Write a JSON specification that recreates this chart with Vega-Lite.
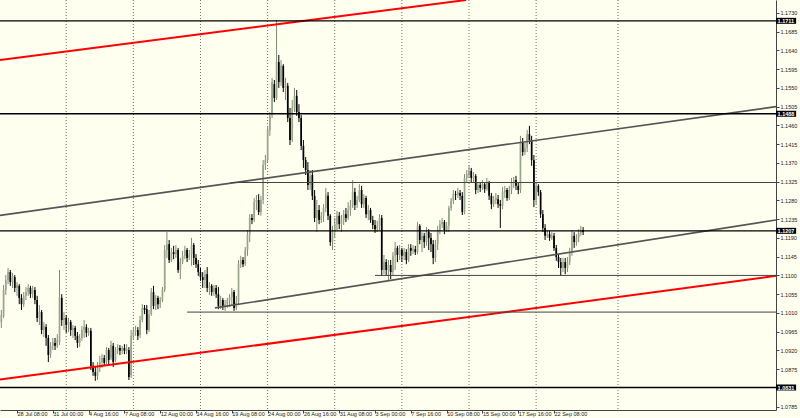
{
"$schema":"https://vega.github.io/schema/vega-lite/v6.json",
"width":776,"height":410,"autosize":"none",
"padding":{"left":0,"top":0,"right":24,"bottom":8},
"background":"#fffff0",
"config":{"view":{"stroke":null},
 "axis":{"labelFont":"Liberation Sans","labelFontSize":5.5,"labelColor":"#222222","tickColor":"#444444","domainColor":"#444444","tickSize":3,"grid":false,"title":null,"labelOverlap":false,"labelBound":false,"labelFlush":false}},
"datasets":{
"grid":[{"n":22},{"n":52},{"n":82},{"n":112},{"n":142},{"n":172},{"n":202},{"n":232},{"n":268.6}],
"lines":[
{"id":"upperTrend","kind":"trend","n1":-7.6,"p1":1.1617,"n2":200.7,"p2":1.1761},
{"id":"lowerTrend","kind":"trend","n1":-7.6,"p1":1.0850,"n2":339.2,"p2":1.1099},
{"id":"channelTop","kind":"channel","n1":-7.6,"p1":1.1244,"n2":339.2,"p2":1.1505},
{"id":"channelBottom","kind":"channel","n1":88.5,"p1":1.1022,"n2":339.2,"p2":1.1233},
{"id":"L1711","kind":"level","n1":-7.6,"p1":1.1711,"n2":339.2,"p2":1.1711},
{"id":"L1488","kind":"level","n1":-7.6,"p1":1.1488,"n2":339.2,"p2":1.1488},
{"id":"L1207","kind":"level","n1":-7.6,"p1":1.1207,"n2":339.2,"p2":1.1207},
{"id":"L0831","kind":"level","n1":-7.6,"p1":1.0831,"n2":339.2,"p2":1.0831},
{"id":"R1323","kind":"ray","n1":95.6,"p1":1.1323,"n2":339.2,"p2":1.1323},
{"id":"R1100","kind":"ray","n1":160,"p1":1.1100,"n2":339.2,"p2":1.1100},
{"id":"R1012","kind":"ray","n1":76,"p1":1.1012,"n2":339.2,"p2":1.1012}
],
"candles":[
{"n":-7,"o":1.0988,"h":1.1017,"l":1.0974,"c":1.1005},
{"n":-6,"o":1.1003,"h":1.1077,"l":1.0998,"c":1.1065},
{"n":-5,"o":1.1065,"h":1.1101,"l":1.1053,"c":1.1089},
{"n":-4,"o":1.1089,"h":1.1118,"l":1.1079,"c":1.1108},
{"n":-3,"o":1.1108,"h":1.1113,"l":1.1075,"c":1.1084},
{"n":-2,"o":1.1084,"h":1.1106,"l":1.1070,"c":1.1099},
{"n":-1,"o":1.1096,"h":1.1101,"l":1.1060,"c":1.1070},
{"n":0,"o":1.1070,"h":1.1084,"l":1.1051,"c":1.1077},
{"n":1,"o":1.1075,"h":1.1079,"l":1.1031,"c":1.1046},
{"n":2,"o":1.1046,"h":1.1055,"l":1.1017,"c":1.1031},
{"n":3,"o":1.1031,"h":1.1060,"l":1.1024,"c":1.1051},
{"n":4,"o":1.1051,"h":1.1072,"l":1.1041,"c":1.1060},
{"n":5,"o":1.1060,"h":1.1079,"l":1.1051,"c":1.1070},
{"n":6,"o":1.1070,"h":1.1075,"l":1.1046,"c":1.1055},
{"n":7,"o":1.1055,"h":1.1075,"l":1.1046,"c":1.1065},
{"n":8,"o":1.1065,"h":1.1072,"l":1.1031,"c":1.1041},
{"n":9,"o":1.1041,"h":1.1051,"l":1.0988,"c":1.0998},
{"n":10,"o":1.0998,"h":1.1029,"l":1.0981,"c":1.1012},
{"n":11,"o":1.1012,"h":1.1017,"l":1.0959,"c":1.0969},
{"n":12,"o":1.0969,"h":1.0988,"l":1.0952,"c":1.0979},
{"n":13,"o":1.0976,"h":1.0983,"l":1.0931,"c":1.0950},
{"n":14,"o":1.0950,"h":1.0957,"l":1.0892,"c":1.0909},
{"n":15,"o":1.0911,"h":1.0940,"l":1.0902,"c":1.0931},
{"n":16,"o":1.0931,"h":1.0950,"l":1.0921,"c":1.0940},
{"n":17,"o":1.0938,"h":1.0950,"l":1.0921,"c":1.0931},
{"n":18,"o":1.0931,"h":1.0959,"l":1.0926,"c":1.0945},
{"n":19,"o":1.0940,"h":1.1113,"l":1.0933,"c":1.1048},
{"n":20,"o":1.1046,"h":1.1055,"l":1.0979,"c":1.0993},
{"n":21,"o":1.0993,"h":1.1012,"l":1.0969,"c":1.0998},
{"n":22,"o":1.0998,"h":1.1005,"l":1.0962,"c":1.0981},
{"n":23,"o":1.0981,"h":1.0998,"l":1.0964,"c":1.0988},
{"n":24,"o":1.0988,"h":1.0993,"l":1.0955,"c":1.0969},
{"n":25,"o":1.0969,"h":1.0981,"l":1.0950,"c":1.0974},
{"n":26,"o":1.0974,"h":1.0979,"l":1.0945,"c":1.0955},
{"n":27,"o":1.0955,"h":1.0964,"l":1.0926,"c":1.0938},
{"n":28,"o":1.0938,"h":1.0959,"l":1.0928,"c":1.0950},
{"n":29,"o":1.0950,"h":1.0979,"l":1.0943,"c":1.0969},
{"n":30,"o":1.0969,"h":1.0993,"l":1.0950,"c":1.0976},
{"n":31,"o":1.0976,"h":1.0983,"l":1.0952,"c":1.0962},
{"n":32,"o":1.0962,"h":1.0974,"l":1.0955,"c":1.0967},
{"n":33,"o":1.0967,"h":1.0974,"l":1.0873,"c":1.0883},
{"n":34,"o":1.0883,"h":1.0892,"l":1.0859,"c":1.0868},
{"n":35,"o":1.0868,"h":1.0883,"l":1.0847,"c":1.0859},
{"n":36,"o":1.0859,"h":1.0892,"l":1.0849,"c":1.0878},
{"n":37,"o":1.0878,"h":1.0907,"l":1.0868,"c":1.0892},
{"n":38,"o":1.0892,"h":1.0911,"l":1.0878,"c":1.0902},
{"n":39,"o":1.0902,"h":1.0909,"l":1.0883,"c":1.0890},
{"n":40,"o":1.0892,"h":1.0928,"l":1.0887,"c":1.0921},
{"n":41,"o":1.0921,"h":1.0926,"l":1.0883,"c":1.0897},
{"n":42,"o":1.0902,"h":1.0943,"l":1.0897,"c":1.0933},
{"n":43,"o":1.0931,"h":1.0938,"l":1.0880,"c":1.0892},
{"n":44,"o":1.0897,"h":1.0928,"l":1.0892,"c":1.0921},
{"n":45,"o":1.0921,"h":1.0935,"l":1.0911,"c":1.0926},
{"n":46,"o":1.0926,"h":1.0933,"l":1.0909,"c":1.0919},
{"n":47,"o":1.0919,"h":1.0931,"l":1.0911,"c":1.0926},
{"n":48,"o":1.0926,"h":1.0935,"l":1.0911,"c":1.0919},
{"n":49,"o":1.0919,"h":1.0935,"l":1.0911,"c":1.0923},
{"n":50,"o":1.0921,"h":1.0928,"l":1.0849,"c":1.0856},
{"n":51,"o":1.0861,"h":1.0969,"l":1.0854,"c":1.0955},
{"n":52,"o":1.0955,"h":1.0974,"l":1.0945,"c":1.0964},
{"n":53,"o":1.0964,"h":1.0979,"l":1.0955,"c":1.0969},
{"n":54,"o":1.0969,"h":1.0976,"l":1.0945,"c":1.0955},
{"n":55,"o":1.0957,"h":1.1003,"l":1.0950,"c":1.0993},
{"n":56,"o":1.0993,"h":1.1031,"l":1.0988,"c":1.1022},
{"n":57,"o":1.1022,"h":1.1029,"l":1.1007,"c":1.1017},
{"n":58,"o":1.1019,"h":1.1029,"l":1.0959,"c":1.0969},
{"n":59,"o":1.0969,"h":1.1017,"l":1.0964,"c":1.1007},
{"n":60,"o":1.1007,"h":1.1070,"l":1.1003,"c":1.1060},
{"n":61,"o":1.1060,"h":1.1075,"l":1.1019,"c":1.1027},
{"n":62,"o":1.1027,"h":1.1053,"l":1.1017,"c":1.1046},
{"n":63,"o":1.1046,"h":1.1051,"l":1.1019,"c":1.1031},
{"n":64,"o":1.1031,"h":1.1048,"l":1.1022,"c":1.1041},
{"n":65,"o":1.1041,"h":1.1072,"l":1.1036,"c":1.1065},
{"n":66,"o":1.1065,"h":1.1173,"l":1.1060,"c":1.1161},
{"n":67,"o":1.1161,"h":1.1204,"l":1.1142,"c":1.1175},
{"n":68,"o":1.1175,"h":1.1185,"l":1.1130,"c":1.1137},
{"n":69,"o":1.1137,"h":1.1166,"l":1.1132,"c":1.1156},
{"n":70,"o":1.1156,"h":1.1171,"l":1.1139,"c":1.1151},
{"n":71,"o":1.1151,"h":1.1173,"l":1.1142,"c":1.1161},
{"n":72,"o":1.1161,"h":1.1166,"l":1.1106,"c":1.1113},
{"n":73,"o":1.1113,"h":1.1142,"l":1.1091,"c":1.1132},
{"n":74,"o":1.1132,"h":1.1159,"l":1.1127,"c":1.1147},
{"n":75,"o":1.1147,"h":1.1171,"l":1.1139,"c":1.1161},
{"n":76,"o":1.1161,"h":1.1166,"l":1.1132,"c":1.1142},
{"n":77,"o":1.1142,"h":1.1161,"l":1.1137,"c":1.1151},
{"n":78,"o":1.1151,"h":1.1190,"l":1.1123,"c":1.1173},
{"n":79,"o":1.1173,"h":1.1178,"l":1.1125,"c":1.1142},
{"n":80,"o":1.1142,"h":1.1151,"l":1.1118,"c":1.1127},
{"n":81,"o":1.1127,"h":1.1137,"l":1.1099,"c":1.1108},
{"n":82,"o":1.1108,"h":1.1118,"l":1.1087,"c":1.1096},
{"n":83,"o":1.1096,"h":1.1108,"l":1.1070,"c":1.1089},
{"n":84,"o":1.1089,"h":1.1113,"l":1.1070,"c":1.1103},
{"n":85,"o":1.1103,"h":1.1120,"l":1.1060,"c":1.1070},
{"n":86,"o":1.1070,"h":1.1084,"l":1.1053,"c":1.1075},
{"n":87,"o":1.1075,"h":1.1079,"l":1.1051,"c":1.1060},
{"n":88,"o":1.1060,"h":1.1077,"l":1.1051,"c":1.1070},
{"n":89,"o":1.1070,"h":1.1077,"l":1.1046,"c":1.1055},
{"n":90,"o":1.1055,"h":1.1072,"l":1.1019,"c":1.1027},
{"n":91,"o":1.1027,"h":1.1051,"l":1.1019,"c":1.1041},
{"n":92,"o":1.1041,"h":1.1046,"l":1.1017,"c":1.1027},
{"n":93,"o":1.1027,"h":1.1041,"l":1.1015,"c":1.1031},
{"n":94,"o":1.1031,"h":1.1046,"l":1.1022,"c":1.1041},
{"n":95,"o":1.1041,"h":1.1055,"l":1.1024,"c":1.1048},
{"n":96,"o":1.1048,"h":1.1070,"l":1.1029,"c":1.1060},
{"n":97,"o":1.1060,"h":1.1065,"l":1.1015,"c":1.1022},
{"n":98,"o":1.1022,"h":1.1051,"l":1.1017,"c":1.1036},
{"n":99,"o":1.1036,"h":1.1137,"l":1.1029,"c":1.1127},
{"n":100,"o":1.1127,"h":1.1147,"l":1.1118,"c":1.1137},
{"n":101,"o":1.1137,"h":1.1144,"l":1.1120,"c":1.1127},
{"n":102,"o":1.1127,"h":1.1168,"l":1.1123,"c":1.1161},
{"n":103,"o":1.1161,"h":1.1209,"l":1.1147,"c":1.1199},
{"n":104,"o":1.1199,"h":1.1247,"l":1.1180,"c":1.1238},
{"n":105,"o":1.1238,"h":1.1247,"l":1.1223,"c":1.1233},
{"n":106,"o":1.1233,"h":1.1286,"l":1.1228,"c":1.1276},
{"n":107,"o":1.1276,"h":1.1293,"l":1.1257,"c":1.1281},
{"n":108,"o":1.1281,"h":1.1295,"l":1.1245,"c":1.1252},
{"n":109,"o":1.1252,"h":1.1291,"l":1.1243,"c":1.1281},
{"n":110,"o":1.1281,"h":1.1377,"l":1.1271,"c":1.1365},
{"n":111,"o":1.1365,"h":1.1389,"l":1.1353,"c":1.1377},
{"n":112,"o":1.1377,"h":1.1459,"l":1.1372,"c":1.1449},
{"n":113,"o":1.1449,"h":1.1492,"l":1.1435,"c":1.1483},
{"n":114,"o":1.1485,"h":1.1574,"l":1.1478,"c":1.1564},
{"n":115,"o":1.1559,"h":1.1569,"l":1.1516,"c":1.1526},
{"n":116,"o":1.1526,"h":1.1713,"l":1.1521,"c":1.1612},
{"n":117,"o":1.1612,"h":1.1629,"l":1.1550,"c":1.1564},
{"n":118,"o":1.1564,"h":1.1617,"l":1.1555,"c":1.1603},
{"n":119,"o":1.1603,"h":1.1607,"l":1.1540,"c":1.1550},
{"n":120,"o":1.1550,"h":1.1574,"l":1.1521,"c":1.1559},
{"n":121,"o":1.1555,"h":1.1562,"l":1.1468,"c":1.1478},
{"n":122,"o":1.1478,"h":1.1502,"l":1.1413,"c":1.1425},
{"n":123,"o":1.1425,"h":1.1521,"l":1.1420,"c":1.1502},
{"n":124,"o":1.1502,"h":1.1550,"l":1.1492,"c":1.1531},
{"n":125,"o":1.1531,"h":1.1545,"l":1.1483,"c":1.1492},
{"n":126,"o":1.1492,"h":1.1511,"l":1.1468,"c":1.1478},
{"n":127,"o":1.1478,"h":1.1485,"l":1.1401,"c":1.1411},
{"n":128,"o":1.1411,"h":1.1425,"l":1.1358,"c":1.1377},
{"n":129,"o":1.1377,"h":1.1384,"l":1.1341,"c":1.1353},
{"n":130,"o":1.1353,"h":1.1372,"l":1.1305,"c":1.1317},
{"n":131,"o":1.1317,"h":1.1353,"l":1.1305,"c":1.1339},
{"n":132,"o":1.1341,"h":1.1353,"l":1.1281,"c":1.1291},
{"n":133,"o":1.1291,"h":1.1305,"l":1.1228,"c":1.1238},
{"n":134,"o":1.1238,"h":1.1281,"l":1.1204,"c":1.1257},
{"n":135,"o":1.1257,"h":1.1269,"l":1.1223,"c":1.1233},
{"n":136,"o":1.1233,"h":1.1252,"l":1.1226,"c":1.1243},
{"n":137,"o":1.1243,"h":1.1271,"l":1.1228,"c":1.1262},
{"n":138,"o":1.1262,"h":1.1310,"l":1.1252,"c":1.1295},
{"n":139,"o":1.1291,"h":1.1300,"l":1.1233,"c":1.1243},
{"n":140,"o":1.1243,"h":1.1247,"l":1.1171,"c":1.1180},
{"n":141,"o":1.1180,"h":1.1219,"l":1.1161,"c":1.1204},
{"n":142,"o":1.1204,"h":1.1238,"l":1.1190,"c":1.1223},
{"n":143,"o":1.1223,"h":1.1255,"l":1.1209,"c":1.1243},
{"n":144,"o":1.1243,"h":1.1252,"l":1.1211,"c":1.1223},
{"n":145,"o":1.1223,"h":1.1245,"l":1.1204,"c":1.1233},
{"n":146,"o":1.1233,"h":1.1257,"l":1.1221,"c":1.1247},
{"n":147,"o":1.1247,"h":1.1262,"l":1.1228,"c":1.1238},
{"n":148,"o":1.1238,"h":1.1276,"l":1.1233,"c":1.1257},
{"n":149,"o":1.1257,"h":1.1281,"l":1.1243,"c":1.1267},
{"n":150,"o":1.1267,"h":1.1329,"l":1.1262,"c":1.1300},
{"n":151,"o":1.1300,"h":1.1310,"l":1.1257,"c":1.1269},
{"n":152,"o":1.1269,"h":1.1291,"l":1.1262,"c":1.1281},
{"n":153,"o":1.1281,"h":1.1319,"l":1.1276,"c":1.1305},
{"n":154,"o":1.1305,"h":1.1315,"l":1.1262,"c":1.1271},
{"n":155,"o":1.1271,"h":1.1295,"l":1.1262,"c":1.1286},
{"n":156,"o":1.1286,"h":1.1291,"l":1.1238,"c":1.1247},
{"n":157,"o":1.1247,"h":1.1269,"l":1.1233,"c":1.1257},
{"n":158,"o":1.1257,"h":1.1262,"l":1.1226,"c":1.1233},
{"n":159,"o":1.1233,"h":1.1243,"l":1.1211,"c":1.1221},
{"n":160,"o":1.1221,"h":1.1233,"l":1.1202,"c":1.1211},
{"n":161,"o":1.1211,"h":1.1231,"l":1.1204,"c":1.1219},
{"n":162,"o":1.1219,"h":1.1247,"l":1.1209,"c":1.1238},
{"n":163,"o":1.1238,"h":1.1245,"l":1.1099,"c":1.1113},
{"n":164,"o":1.1113,"h":1.1149,"l":1.1103,"c":1.1132},
{"n":165,"o":1.1132,"h":1.1139,"l":1.1099,"c":1.1113},
{"n":166,"o":1.1113,"h":1.1137,"l":1.1087,"c":1.1125},
{"n":167,"o":1.1125,"h":1.1137,"l":1.1091,"c":1.1108},
{"n":168,"o":1.1108,"h":1.1156,"l":1.1101,"c":1.1147},
{"n":169,"o":1.1147,"h":1.1180,"l":1.1113,"c":1.1166},
{"n":170,"o":1.1166,"h":1.1171,"l":1.1132,"c":1.1149},
{"n":171,"o":1.1149,"h":1.1173,"l":1.1137,"c":1.1161},
{"n":172,"o":1.1161,"h":1.1166,"l":1.1132,"c":1.1147},
{"n":173,"o":1.1147,"h":1.1166,"l":1.1137,"c":1.1156},
{"n":174,"o":1.1156,"h":1.1163,"l":1.1127,"c":1.1137},
{"n":175,"o":1.1137,"h":1.1175,"l":1.1132,"c":1.1166},
{"n":176,"o":1.1166,"h":1.1175,"l":1.1147,"c":1.1159},
{"n":177,"o":1.1159,"h":1.1173,"l":1.1151,"c":1.1163},
{"n":178,"o":1.1163,"h":1.1171,"l":1.1149,"c":1.1156},
{"n":179,"o":1.1156,"h":1.1228,"l":1.1151,"c":1.1219},
{"n":180,"o":1.1219,"h":1.1223,"l":1.1175,"c":1.1185},
{"n":181,"o":1.1185,"h":1.1204,"l":1.1156,"c":1.1195},
{"n":182,"o":1.1195,"h":1.1202,"l":1.1166,"c":1.1180},
{"n":183,"o":1.1180,"h":1.1216,"l":1.1171,"c":1.1204},
{"n":184,"o":1.1204,"h":1.1211,"l":1.1161,"c":1.1190},
{"n":185,"o":1.1190,"h":1.1202,"l":1.1156,"c":1.1175},
{"n":186,"o":1.1175,"h":1.1185,"l":1.1127,"c":1.1142},
{"n":187,"o":1.1142,"h":1.1185,"l":1.1132,"c":1.1175},
{"n":188,"o":1.1175,"h":1.1219,"l":1.1161,"c":1.1209},
{"n":189,"o":1.1209,"h":1.1233,"l":1.1199,"c":1.1223},
{"n":190,"o":1.1223,"h":1.1238,"l":1.1214,"c":1.1228},
{"n":191,"o":1.1228,"h":1.1233,"l":1.1199,"c":1.1209},
{"n":192,"o":1.1209,"h":1.1228,"l":1.1204,"c":1.1219},
{"n":193,"o":1.1219,"h":1.1267,"l":1.1204,"c":1.1262},
{"n":194,"o":1.1262,"h":1.1286,"l":1.1255,"c":1.1279},
{"n":195,"o":1.1279,"h":1.1305,"l":1.1271,"c":1.1295},
{"n":196,"o":1.1295,"h":1.1303,"l":1.1281,"c":1.1293},
{"n":197,"o":1.1293,"h":1.1310,"l":1.1286,"c":1.1300},
{"n":198,"o":1.1298,"h":1.1305,"l":1.1281,"c":1.1291},
{"n":199,"o":1.1291,"h":1.1300,"l":1.1245,"c":1.1252},
{"n":200,"o":1.1252,"h":1.1343,"l":1.1247,"c":1.1334},
{"n":201,"o":1.1334,"h":1.1353,"l":1.1324,"c":1.1343},
{"n":202,"o":1.1343,"h":1.1363,"l":1.1334,"c":1.1351},
{"n":203,"o":1.1351,"h":1.1358,"l":1.1324,"c":1.1334},
{"n":204,"o":1.1334,"h":1.1348,"l":1.1324,"c":1.1339},
{"n":205,"o":1.1339,"h":1.1343,"l":1.1295,"c":1.1305},
{"n":206,"o":1.1305,"h":1.1324,"l":1.1298,"c":1.1317},
{"n":207,"o":1.1317,"h":1.1322,"l":1.1300,"c":1.1310},
{"n":208,"o":1.1310,"h":1.1329,"l":1.1305,"c":1.1319},
{"n":209,"o":1.1319,"h":1.1324,"l":1.1298,"c":1.1307},
{"n":210,"o":1.1307,"h":1.1334,"l":1.1303,"c":1.1322},
{"n":211,"o":1.1322,"h":1.1327,"l":1.1281,"c":1.1291},
{"n":212,"o":1.1291,"h":1.1298,"l":1.1259,"c":1.1271},
{"n":213,"o":1.1271,"h":1.1291,"l":1.1264,"c":1.1281},
{"n":214,"o":1.1281,"h":1.1298,"l":1.1271,"c":1.1286},
{"n":215,"o":1.1283,"h":1.1293,"l":1.1262,"c":1.1271},
{"n":216,"o":1.1271,"h":1.1281,"l":1.1214,"c":1.1267},
{"n":217,"o":1.1267,"h":1.1312,"l":1.1259,"c":1.1300},
{"n":218,"o":1.1300,"h":1.1315,"l":1.1286,"c":1.1305},
{"n":219,"o":1.1305,"h":1.1310,"l":1.1279,"c":1.1286},
{"n":220,"o":1.1286,"h":1.1315,"l":1.1281,"c":1.1305},
{"n":221,"o":1.1305,"h":1.1334,"l":1.1295,"c":1.1324},
{"n":222,"o":1.1324,"h":1.1336,"l":1.1310,"c":1.1329},
{"n":223,"o":1.1329,"h":1.1339,"l":1.1305,"c":1.1315},
{"n":224,"o":1.1315,"h":1.1322,"l":1.1295,"c":1.1305},
{"n":225,"o":1.1305,"h":1.1435,"l":1.1298,"c":1.1420},
{"n":226,"o":1.1420,"h":1.1430,"l":1.1387,"c":1.1396},
{"n":227,"o":1.1396,"h":1.1418,"l":1.1389,"c":1.1406},
{"n":228,"o":1.1406,"h":1.1449,"l":1.1396,"c":1.1439},
{"n":229,"o":1.1439,"h":1.1459,"l":1.1415,"c":1.1425},
{"n":230,"o":1.1425,"h":1.1435,"l":1.1363,"c":1.1377},
{"n":231,"o":1.1377,"h":1.1389,"l":1.1264,"c":1.1281},
{"n":232,"o":1.1281,"h":1.1324,"l":1.1271,"c":1.1315},
{"n":233,"o":1.1315,"h":1.1319,"l":1.1291,"c":1.1300},
{"n":234,"o":1.1300,"h":1.1305,"l":1.1238,"c":1.1247},
{"n":235,"o":1.1247,"h":1.1257,"l":1.1204,"c":1.1214},
{"n":236,"o":1.1214,"h":1.1223,"l":1.1185,"c":1.1195},
{"n":237,"o":1.1195,"h":1.1209,"l":1.1190,"c":1.1199},
{"n":238,"o":1.1199,"h":1.1207,"l":1.1183,"c":1.1190},
{"n":239,"o":1.1190,"h":1.1204,"l":1.1185,"c":1.1195},
{"n":240,"o":1.1195,"h":1.1202,"l":1.1159,"c":1.1166},
{"n":241,"o":1.1166,"h":1.1173,"l":1.1135,"c":1.1144},
{"n":242,"o":1.1144,"h":1.1151,"l":1.1118,"c":1.1132},
{"n":243,"o":1.1132,"h":1.1142,"l":1.1099,"c":1.1118},
{"n":244,"o":1.1118,"h":1.1142,"l":1.1108,"c":1.1132},
{"n":245,"o":1.1132,"h":1.1142,"l":1.1103,"c":1.1118},
{"n":246,"o":1.1118,"h":1.1144,"l":1.1108,"c":1.1132},
{"n":247,"o":1.1132,"h":1.1166,"l":1.1125,"c":1.1156},
{"n":248,"o":1.1156,"h":1.1209,"l":1.1147,"c":1.1195},
{"n":249,"o":1.1195,"h":1.1204,"l":1.1166,"c":1.1180},
{"n":250,"o":1.1180,"h":1.1199,"l":1.1171,"c":1.1190},
{"n":251,"o":1.1190,"h":1.1211,"l":1.1180,"c":1.1202},
{"n":252,"o":1.1202,"h":1.1219,"l":1.1195,"c":1.1209},
{"n":253,"o":1.1209,"h":1.1216,"l":1.1197,"c":1.1204}
]},
"layer":[
{"data":{"name":"grid"},
 "mark":{"type":"rule","strokeDash":[1,2],"strokeWidth":1,"stroke":"#6e6e6e"},
 "encoding":{"x":{"field":"n","type":"quantitative","scale":{"domain":[-7.6,339.2],"nice":false,"zero":false},
   "axis":{"values":[-16,0,16,32,48,64,80,96,112,128,144,160,176,192,208,224,240],"labelExpr":"['23 Jul 16:00','28 Jul 08:00','31 Jul 00:00','4 Aug 16:00','7 Aug 08:00','12 Aug 00:00','14 Aug 16:00','19 Aug 08:00','24 Aug 00:00','26 Aug 16:00','31 Aug 08:00','3 Sep 00:00','7 Sep 16:00','10 Sep 08:00','15 Sep 00:00','17 Sep 16:00','22 Sep 08:00'][(datum.value+16)/16]","labelAlign":"left","labelBaseline":"top","labelDx":1.5,"labelPadding":-1.5}}}},
{"data":{"name":"candles"},
 "mark":{"type":"rule","strokeWidth":1},
 "encoding":{
  "x":{"field":"n","type":"quantitative","scale":{"domain":[-7.6,339.2],"nice":false,"zero":false},
   "axis":{"values":[-16,0,16,32,48,64,80,96,112,128,144,160,176,192,208,224,240],"labelExpr":"['23 Jul 16:00','28 Jul 08:00','31 Jul 00:00','4 Aug 16:00','7 Aug 08:00','12 Aug 00:00','14 Aug 16:00','19 Aug 08:00','24 Aug 00:00','26 Aug 16:00','31 Aug 08:00','3 Sep 00:00','7 Sep 16:00','10 Sep 08:00','15 Sep 00:00','17 Sep 16:00','22 Sep 08:00'][(datum.value+16)/16]","labelAlign":"left","labelBaseline":"top","labelDx":1.5,"labelPadding":-1.5}},
  "y":{"field":"l","type":"quantitative","scale":{"domain":[1.0777,1.1761],"nice":false,"zero":false},
   "axis":{"orient":"right","values":[1.0785,1.0875,1.0920,1.0965,1.1010,1.1055,1.1100,1.1145,1.1190,1.1235,1.1280,1.1325,1.1370,1.1415,1.1460,1.1505,1.1550,1.1595,1.1640,1.1685,1.1730],"format":".4f","labelPadding":1}},
  "y2":{"field":"h"},
  "stroke":{"condition":{"test":"datum.c >= datum.o","value":"#7f8c70"},"value":"#000000"}}},
{"data":{"name":"candles"},
 "mark":{"type":"rule","strokeWidth":1.7,"strokeCap":"butt"},
 "encoding":{
  "x":{"field":"n","type":"quantitative","scale":{"domain":[-7.6,339.2],"nice":false,"zero":false},
   "axis":{"values":[-16,0,16,32,48,64,80,96,112,128,144,160,176,192,208,224,240],"labelExpr":"['23 Jul 16:00','28 Jul 08:00','31 Jul 00:00','4 Aug 16:00','7 Aug 08:00','12 Aug 00:00','14 Aug 16:00','19 Aug 08:00','24 Aug 00:00','26 Aug 16:00','31 Aug 08:00','3 Sep 00:00','7 Sep 16:00','10 Sep 08:00','15 Sep 00:00','17 Sep 16:00','22 Sep 08:00'][(datum.value+16)/16]","labelAlign":"left","labelBaseline":"top","labelDx":1.5,"labelPadding":-1.5}},
  "y":{"field":"o","type":"quantitative","scale":{"domain":[1.0777,1.1761],"nice":false,"zero":false},
   "axis":{"orient":"right","values":[1.0785,1.0875,1.0920,1.0965,1.1010,1.1055,1.1100,1.1145,1.1190,1.1235,1.1280,1.1325,1.1370,1.1415,1.1460,1.1505,1.1550,1.1595,1.1640,1.1685,1.1730],"format":".4f","labelPadding":1}},
  "y2":{"field":"c"},
  "stroke":{"condition":{"test":"datum.c >= datum.o","value":"#9aa68c"},"value":"#000000"}}},
{"data":{"name":"lines"},
 "mark":{"type":"rule"},
 "encoding":{
  "x":{"field":"n1","type":"quantitative","scale":{"domain":[-7.6,339.2],"nice":false,"zero":false},
   "axis":{"values":[-16,0,16,32,48,64,80,96,112,128,144,160,176,192,208,224,240],"labelExpr":"['23 Jul 16:00','28 Jul 08:00','31 Jul 00:00','4 Aug 16:00','7 Aug 08:00','12 Aug 00:00','14 Aug 16:00','19 Aug 08:00','24 Aug 00:00','26 Aug 16:00','31 Aug 08:00','3 Sep 00:00','7 Sep 16:00','10 Sep 08:00','15 Sep 00:00','17 Sep 16:00','22 Sep 08:00'][(datum.value+16)/16]","labelAlign":"left","labelBaseline":"top","labelDx":1.5,"labelPadding":-1.5}},
  "x2":{"field":"n2"},
  "y":{"field":"p1","type":"quantitative","scale":{"domain":[1.0777,1.1761],"nice":false,"zero":false},
   "axis":{"orient":"right","values":[1.0785,1.0875,1.0920,1.0965,1.1010,1.1055,1.1100,1.1145,1.1190,1.1235,1.1280,1.1325,1.1370,1.1415,1.1460,1.1505,1.1550,1.1595,1.1640,1.1685,1.1730],"format":".4f","labelPadding":1}},
  "y2":{"field":"p2"},
  "stroke":{"field":"kind","type":"nominal","scale":{"domain":["trend","channel","level","ray"],"range":["#ff0000","#555555","#000000","#444444"]},"legend":null},
  "strokeWidth":{"field":"kind","type":"nominal","scale":{"domain":["trend","channel","level","ray"],"range":[2,1,2,1]},"legend":null}}},
{"data":{"name":"lines"},
 "transform":[{"filter":"datum.kind == 'level'"}],
 "mark":{"type":"rule","strokeWidth":6,"stroke":"#000000","strokeCap":"butt"},
 "encoding":{
  "x":{"datum":339.2,"type":"quantitative","scale":{"domain":[-7.6,339.2],"nice":false,"zero":false},
   "axis":{"values":[-16,0,16,32,48,64,80,96,112,128,144,160,176,192,208,224,240],"labelExpr":"['23 Jul 16:00','28 Jul 08:00','31 Jul 00:00','4 Aug 16:00','7 Aug 08:00','12 Aug 00:00','14 Aug 16:00','19 Aug 08:00','24 Aug 00:00','26 Aug 16:00','31 Aug 08:00','3 Sep 00:00','7 Sep 16:00','10 Sep 08:00','15 Sep 00:00','17 Sep 16:00','22 Sep 08:00'][(datum.value+16)/16]","labelAlign":"left","labelBaseline":"top","labelDx":1.5,"labelPadding":-1.5}},
  "x2":{"datum":348.2},
  "y":{"field":"p1","type":"quantitative","scale":{"domain":[1.0777,1.1761],"nice":false,"zero":false},
   "axis":{"orient":"right","values":[1.0785,1.0875,1.0920,1.0965,1.1010,1.1055,1.1100,1.1145,1.1190,1.1235,1.1280,1.1325,1.1370,1.1415,1.1460,1.1505,1.1550,1.1595,1.1640,1.1685,1.1730],"format":".4f","labelPadding":1}}}},
{"data":{"name":"lines"},
 "transform":[{"filter":"datum.kind == 'level'"}],
 "mark":{"type":"text","align":"left","baseline":"middle","fill":"#ffffff","font":"Liberation Sans","fontSize":5.5,"fontWeight":"bold"},
 "encoding":{
  "x":{"datum":339.9,"type":"quantitative","scale":{"domain":[-7.6,339.2],"nice":false,"zero":false},
   "axis":{"values":[-16,0,16,32,48,64,80,96,112,128,144,160,176,192,208,224,240],"labelExpr":"['23 Jul 16:00','28 Jul 08:00','31 Jul 00:00','4 Aug 16:00','7 Aug 08:00','12 Aug 00:00','14 Aug 16:00','19 Aug 08:00','24 Aug 00:00','26 Aug 16:00','31 Aug 08:00','3 Sep 00:00','7 Sep 16:00','10 Sep 08:00','15 Sep 00:00','17 Sep 16:00','22 Sep 08:00'][(datum.value+16)/16]","labelAlign":"left","labelBaseline":"top","labelDx":1.5,"labelPadding":-1.5}},
  "y":{"field":"p1","type":"quantitative","scale":{"domain":[1.0777,1.1761],"nice":false,"zero":false},
   "axis":{"orient":"right","values":[1.0785,1.0875,1.0920,1.0965,1.1010,1.1055,1.1100,1.1145,1.1190,1.1235,1.1280,1.1325,1.1370,1.1415,1.1460,1.1505,1.1550,1.1595,1.1640,1.1685,1.1730],"format":".4f","labelPadding":1}},
  "text":{"field":"p1","type":"quantitative","format":".4f"}}}
]
}
